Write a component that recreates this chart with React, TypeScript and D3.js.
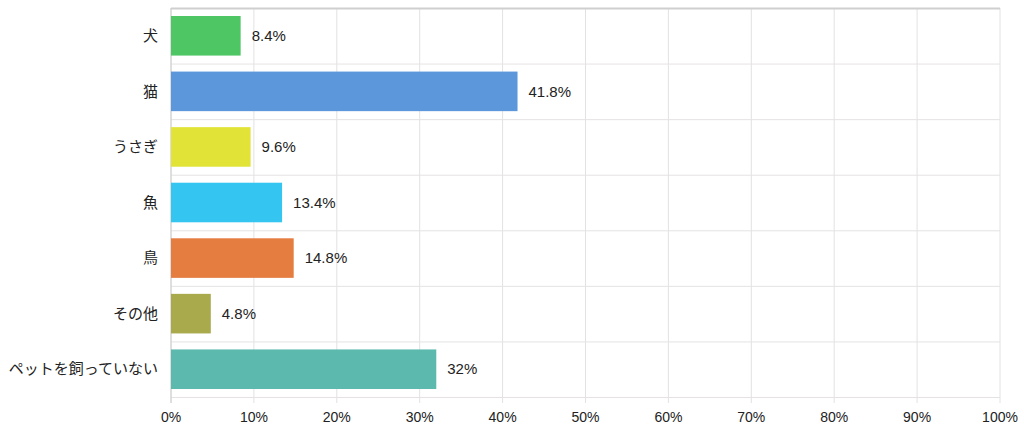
import React, { useEffect, useRef } from "react";
import * as d3 from "d3";

const categories = ["犬", "猫", "うさぎ", "魚", "鳥", "その他", "ペットを飼っていない"];
const values = [8.4, 41.8, 9.6, 13.4, 14.8, 4.8, 32];
const barColors = ["#4fc664", "#5d97db", "#e1e337", "#35c5f1", "#e57c40", "#a8aa4c", "#5cb9ad"];
const xTicks = [0, 10, 20, 30, 40, 50, 60, 70, 80, 90, 100];

const App: React.FC = () => {
  const svgRef = useRef<SVGSVGElement | null>(null);

  useEffect(() => {
    const svg = d3.select(svgRef.current);
    svg.selectAll("*").remove();
    const width = 1024;
    const height = 432;
    const margin = { top: 8, right: 24, bottom: 35, left: 171 };

    const x = d3.scaleLinear().domain([0, 100]).range([margin.left, width - margin.right]);
    const y = d3
      .scaleBand()
      .domain(categories)
      .range([margin.top, height - margin.bottom])
      .paddingInner(0)
      .paddingOuter(0);

    const latin = "'Liberation Sans', Arial, sans-serif";
    const cjk = "'Noto Sans CJK JP', sans-serif";

    // vertical grid lines
    svg.append("g")
      .selectAll("line")
      .data(xTicks)
      .join("line")
      .attr("x1", (d) => x(d))
      .attr("x2", (d) => x(d))
      .attr("y1", margin.top)
      .attr("y2", height - margin.bottom + 6)
      .attr("stroke", "#e2e2e2")
      .attr("stroke-width", 1);

    // horizontal boundary lines
    const bounds = categories.map((c) => y(c)!).concat([height - margin.bottom]);
    svg.append("g")
      .selectAll("line")
      .data(bounds)
      .join("line")
      .attr("x1", margin.left)
      .attr("x2", width - margin.right)
      .attr("y1", (d) => d + 0.5)
      .attr("y2", (d) => d + 0.5)
      .attr("stroke", (d, i) => (i === 0 ? "#cfcfcf" : "#e6e2e4"))
      .attr("stroke-width", (d, i) => (i === 0 ? 2 : 1));

    // left axis line
    svg.append("line")
      .attr("x1", x(0))
      .attr("x2", x(0))
      .attr("y1", margin.top)
      .attr("y2", height - margin.bottom + 6)
      .attr("stroke", "#cccccc");

    const inset = 8;
    svg.append("g")
      .selectAll("rect")
      .data(values)
      .join("rect")
      .attr("x", x(0))
      .attr("y", (d, i) => y(categories[i])! + inset)
      .attr("width", (d) => x(d) - x(0))
      .attr("height", y.bandwidth() - inset * 2)
      .attr("fill", (d, i) => barColors[i]);

    svg.append("g")
      .selectAll("text")
      .data(values)
      .join("text")
      .attr("x", (d) => x(d) + 11)
      .attr("y", (d, i) => y(categories[i])! + y.bandwidth() / 2)
      .attr("dy", "0.35em")
      .attr("font-family", latin)
      .attr("font-size", 15)
      .attr("fill", "#222")
      .text((d) => `${d}%`);

    svg.append("g")
      .selectAll("text")
      .data(categories)
      .join("text")
      .attr("x", margin.left - 13)
      .attr("y", (d) => y(d)! + y.bandwidth() / 2)
      .attr("dy", "0.35em")
      .attr("text-anchor", "end")
      .attr("font-family", cjk)
      .attr("font-size", 15)
      .attr("fill", "#222")
      .text((d) => d);

    svg.append("g")
      .selectAll("text")
      .data(xTicks)
      .join("text")
      .attr("x", (d) => x(d))
      .attr("y", height - margin.bottom + 20)
      .attr("dy", "0.35em")
      .attr("text-anchor", "middle")
      .attr("font-family", latin)
      .attr("font-size", 14)
      .attr("fill", "#222")
      .text((d) => `${d}%`);
  }, []);

  return (
    <svg
      ref={svgRef}
      width={1024}
      height={432}
      style={{ position: "absolute", left: 0, top: 0, background: "white" }}
    />
  );
};

export default App;
